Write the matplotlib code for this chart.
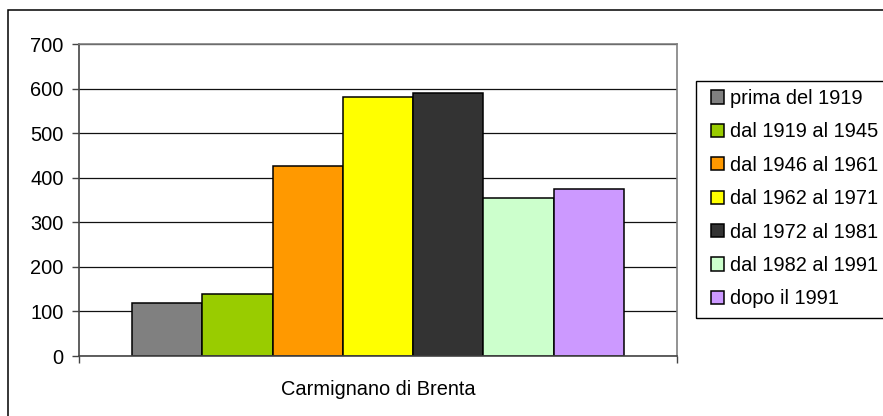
import matplotlib
matplotlib.use("Agg")
import matplotlib.pyplot as plt
from matplotlib.patches import Rectangle

plt.rcParams['font.family'] = ['Liberation Sans', 'DejaVu Sans']

# dati
categoria = "Carmignano di Brenta"
periodi = ["prima del 1919", "dal 1919 al 1945", "dal 1946 al 1961", "dal 1962 al 1971",
           "dal 1972 al 1981", "dal 1982 al 1991", "dopo il 1991"]
valori = [120, 138, 427, 580, 591, 355, 374]
colori = ["#808080", "#99CC00", "#FF9900", "#FFFF00", "#333333", "#CCFFCC", "#CC99FF"]
y_ticks = [0, 100, 200, 300, 400, 500, 600, 700]

W, H = 883, 416
fig = plt.figure(figsize=(W / 100, H / 100), dpi=100)
ax = fig.add_axes([79 / W, 1 - 356 / H, (677 - 79) / W, (356 - 44) / H])

n = len(valori)
w = 0.8227 / n
for i, (v, c, lab) in enumerate(zip(valori, colori, periodi)):
    x = (i - (n - 1) / 2) * w
    ax.bar(x, v, width=w, color=c, edgecolor="black", linewidth=1.1, label=lab, zorder=3)

ax.set_xlim(-0.5, 0.5)
ax.set_ylim(0, 700)
ax.set_yticks(y_ticks)
ax.yaxis.grid(True, color="#111111", linewidth=0.9, zorder=0)
ax.set_axisbelow(True)

ax.set_xticks([0])
ax.set_xticklabels([categoria])
ax.set_xticks([-0.5, 0.5], minor=True)
ax.tick_params(axis="x", which="major", length=0, pad=17, labelsize=14.4)
ax.tick_params(axis="x", which="minor", length=5, width=1, color="#444444", direction="out")
ax.tick_params(axis="y", length=5, width=1, color="#444444", pad=6, labelsize=14.4)

for s in ["top", "right"]:
    ax.spines[s].set_color("#808080")
    ax.spines[s].set_linewidth(1.2)
for s in ["left", "bottom"]:
    ax.spines[s].set_color("#444444")
    ax.spines[s].set_linewidth(1.2)
ax.spines["bottom"].set_zorder(4)

# cornice esterna
fig.add_artist(Rectangle((8 / W, -0.2), 1.5, 1.2 - 10 / H, transform=fig.transFigure,
                         fill=False, edgecolor="black", linewidth=1.1))

# riquadro legenda
fig.add_artist(Rectangle((696 / W, 1 - 318 / H), 0.5, (318 - 81) / H, transform=fig.transFigure,
                         fill=False, edgecolor="black", linewidth=1.0))
leg = fig.legend(loc="upper left", bbox_to_anchor=(711 / W, 1 - 89 / H), borderaxespad=0,
                 fontsize=14.4, frameon=False, handlelength=0.65,
                 handleheight=0.65, handletextpad=0.3, labelspacing=0.72, borderpad=0)

fig.savefig("out.png", dpi=100)
